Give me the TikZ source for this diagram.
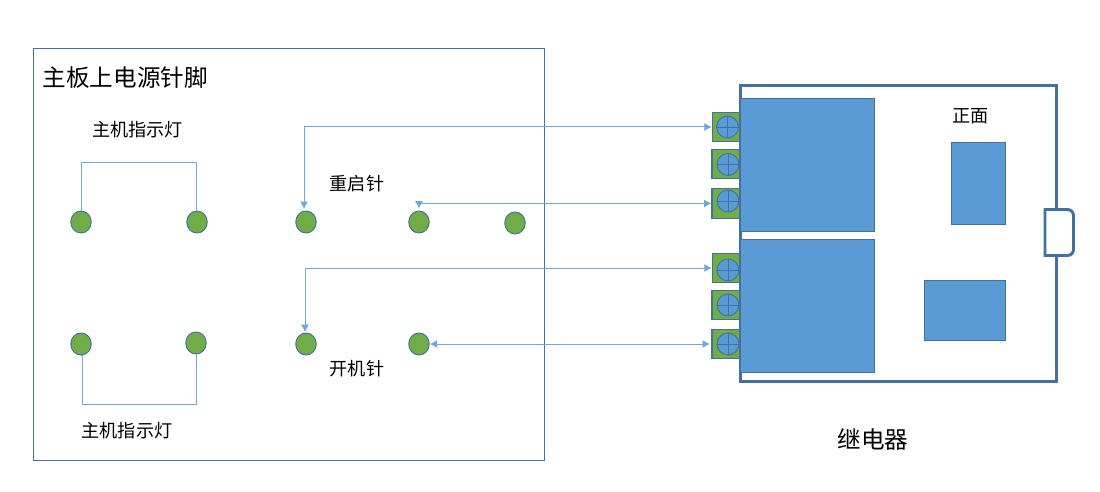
\documentclass[tikz,border=0pt]{standalone}
\usepackage{fontspec}
\setmainfont{Noto Sans CJK SC}
\usetikzlibrary{arrows.meta,calc,shapes.geometric}
\definecolor{fillblue}{HTML}{5B9BD5}
\definecolor{edgeblue}{HTML}{41719C}
\definecolor{pingreen}{HTML}{70AD47}
\definecolor{wireblue}{HTML}{6EA7DB}
\tikzset{
  x=0.75pt,y=-0.75pt,
  pin/.style={ellipse,draw=edgeblue,fill=pingreen,line width=0.7pt,minimum width=15.4pt,minimum height=16.5pt,inner sep=0pt},
  block/.style={rectangle,draw=edgeblue,fill=fillblue,line width=0.7pt,inner sep=0pt},
  termbox/.style={rectangle,draw=edgeblue,fill=pingreen,line width=0.8pt,minimum width=20.6pt,minimum height=22.2pt,inner sep=0pt},
  screw/.style={circle,draw=edgeblue,fill=fillblue,line width=0.7pt,minimum size=16.4pt,inner sep=0pt},
  wire/.style={draw=wireblue,line width=0.75pt},
  dlink/.style={wire,{Latex[length=5.5pt,width=6pt]}-{Latex[length=5.5pt,width=6pt]}},
  lbl/.style={inner sep=0pt,font=\fontsize{13.6pt}{16pt}\selectfont,text=black},
  biglbl/.style={inner sep=0pt,font=\fontsize{17.7pt}{20pt}\selectfont,text=black},
}
\newcommand{\termscrew}[3]{%
  \node[screw] (#1) at (#2,#3) {};
  \draw[edgeblue,line width=0.6pt] (#1.west) -- (#1.east) (#1.north) -- (#1.south);
}
\begin{document}
\begin{tikzpicture}
\useasboundingbox (0,0) rectangle (1100,492);
% main board
\node[rectangle,draw=edgeblue,line width=0.7pt,minimum width=383.4pt,minimum height=309pt,inner sep=0pt] (board) at (288.7,254) {};
\node[biglbl,anchor=west] (title) at (42.5,78) {主板上电源针脚};
\node[lbl] (ind1) at (137.5,130) {主机指示灯};
\node[lbl] (ind2) at (127,431) {主机指示灯};
\node[lbl] (reset) at (357,184) {重启针};
\node[lbl] (power) at (357,369) {开机针};
% pins
\node[pin] (p1) at (81,222) {};
\node[pin] (p2) at (197,222) {};
\node[pin] (p3) at (306,222) {};
\node[pin] (p4) at (419,222) {};
\node[pin] (p5) at (515,223) {};
\node[pin] (p6) at (81,344) {};
\node[pin] (p7) at (196,343) {};
\node[pin] (p8) at (306,344) {};
\node[pin] (p9) at (419,344) {};
% relay
\node[rectangle,draw=edgeblue,line width=2.2pt,minimum width=237.5pt,minimum height=222pt,inner sep=0pt] (relay) at (898.5,233.5) {};
\node[block,minimum width=101pt,minimum height=100pt] (coil1) at (807.5,165) {};
\node[block,minimum width=100.5pt,minimum height=100pt] (coil2) at (807.2,306) {};
\node[block,minimum width=41pt,minimum height=62pt] (s1) at (978.5,183.5) {};
\node[block,minimum width=61pt,minimum height=45.5pt] (s2) at (965,310.5) {};
\node[lbl] (front) at (970.5,116) {正面};
\node[biglbl] (rl) at (873,440) {继电器};
% side connector
\draw[edgeblue,line width=2.2pt,fill=white,rounded corners=0pt] (1045,209.5) -- (1067,209.5) [rounded corners=4.5pt] -- (1073.5,209.5) -- (1073.5,255.5) [rounded corners=0pt] -- (1045,255.5) -- cycle;
% terminals
\node[termbox] (t1) at (726,127) {};
\node[termbox] (t2) at (725.7,164) {};
\node[termbox] (t3) at (725.7,203.5) {};
\node[termbox] (t4) at (726,268) {};
\node[termbox] (t5) at (725.7,305) {};
\node[termbox] (t6) at (725.7,344) {};
\termscrew{c1}{727.5}{127}
\termscrew{c2}{728}{164.5}
\termscrew{c3}{728}{201}
\termscrew{c4}{728}{270}
\termscrew{c5}{728}{305}
\termscrew{c6}{728}{344}
% pin jumpers
\draw[wire] (p1.north) -- ++(0,-48.5) -| ($(p2.north)+(-1,0)$);
\draw[wire] (p6.south) -- ++(1,0) |- ($(p7.south)+(0,50)$) -- (p7.south);
% arrows
\draw[dlink] (t1.west) -| ($(p3.north)+(-2,-1.5)$);
\draw[dlink] (t3.west) -| ($(p4.north)+(0,-2)$);
\draw[dlink] (t4.west) -| ($(p8.north)+(-1,-0.5)$);
\draw[dlink] ($(t6.west)+(-1.5,0)$) -- (p9.east);
\end{tikzpicture}
\end{document}
